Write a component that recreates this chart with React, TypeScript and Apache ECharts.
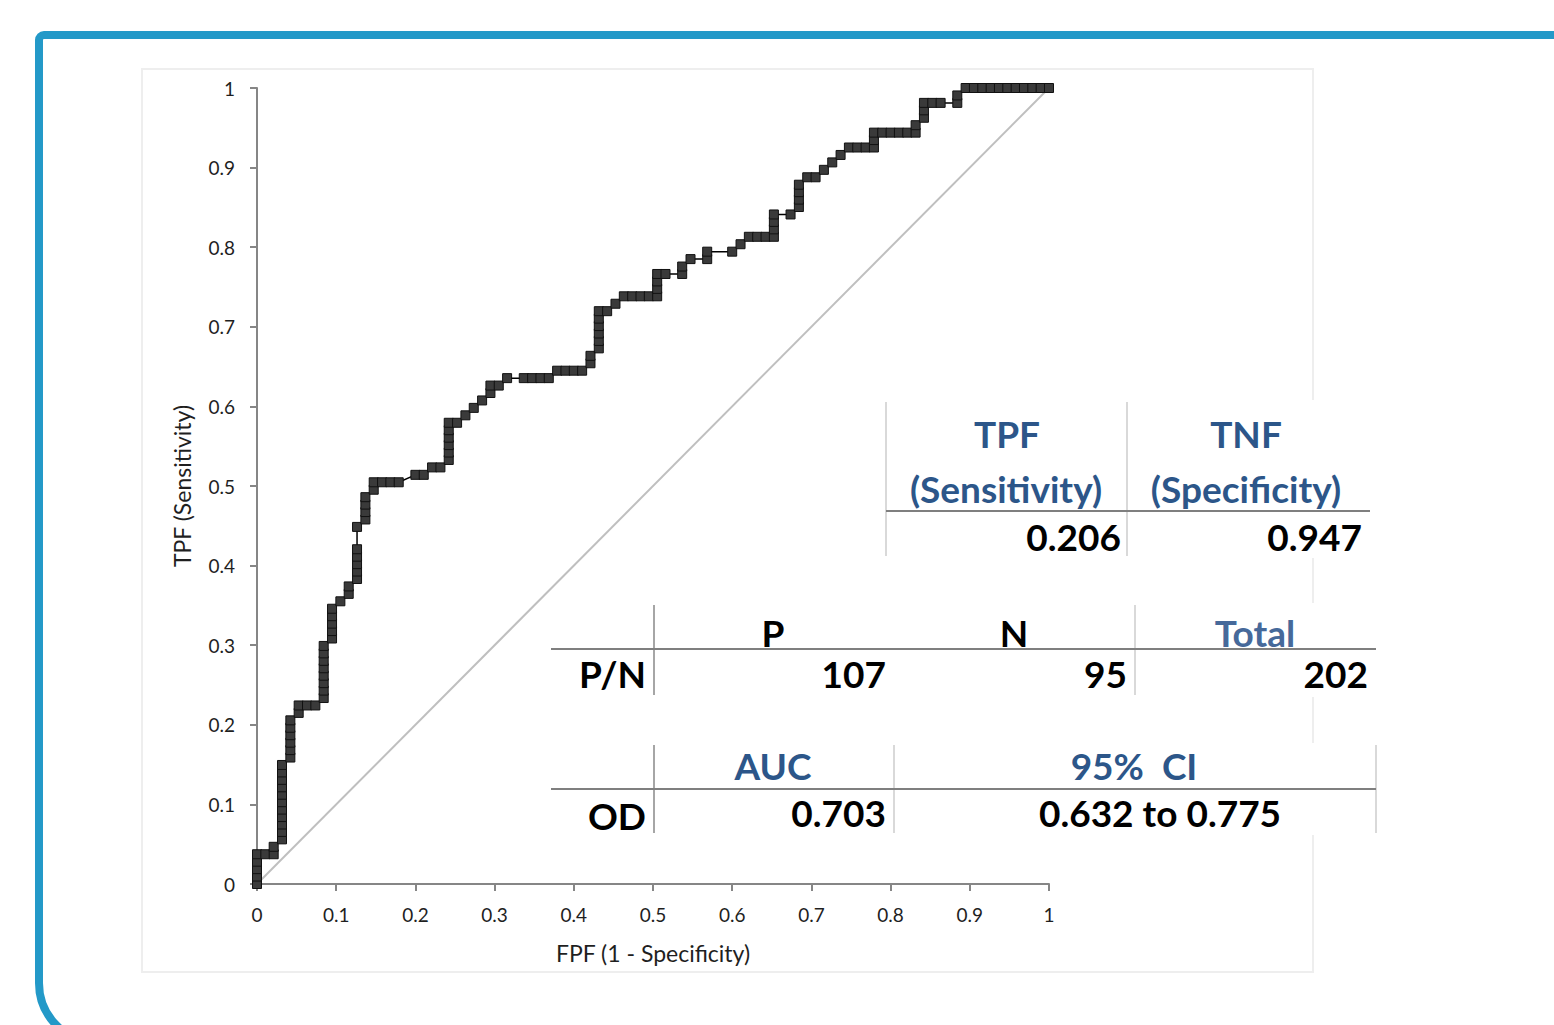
import React, { useEffect, useRef } from "react";
import * as echarts from "echarts";

// ROC curve: cumulative counts of false positives (of N) and true positives (of P)
const NEGATIVES = 95;
const POSITIVES = 107;
const rocCounts: [number, number][] = [
  [0, 0], [0, 1], [0, 2], [0, 3], [0, 4], [1, 4], [2, 4], [2, 5], [3, 6], [3, 7],
  [3, 8], [3, 9], [3, 10], [3, 11], [3, 12], [3, 13], [3, 14], [3, 15], [3, 16], [4, 17],
  [4, 18], [4, 19], [4, 20], [4, 21], [4, 22], [5, 23], [5, 24], [6, 24], [7, 24], [8, 25],
  [8, 26], [8, 27], [8, 28], [8, 29], [8, 30], [8, 31], [8, 32], [9, 33], [9, 34], [9, 35],
  [9, 36], [9, 37], [10, 38], [11, 39], [11, 40], [12, 41], [12, 42], [12, 43], [12, 44], [12, 45],
  [12, 48], [13, 49], [13, 50], [13, 51], [13, 52], [14, 53], [14, 54], [15, 54], [16, 54], [17, 54],
  [19, 55], [20, 55], [21, 56], [22, 56], [23, 57], [23, 58], [23, 59], [23, 60], [23, 61], [23, 62],
  [24, 62], [25, 63], [26, 64], [27, 65], [28, 66], [28, 67], [29, 67], [30, 68], [32, 68], [33, 68],
  [34, 68], [35, 68], [36, 69], [37, 69], [38, 69], [39, 69], [40, 70], [40, 71], [41, 72], [41, 73],
  [41, 74], [41, 75], [41, 76], [41, 77], [42, 77], [43, 78], [44, 79], [45, 79], [46, 79], [47, 79],
  [48, 79], [48, 80], [48, 81], [48, 82], [49, 82], [51, 82], [51, 83], [52, 84], [54, 84], [54, 85],
  [57, 85], [58, 86], [59, 87], [60, 87], [61, 87], [62, 87], [62, 88], [62, 89], [62, 90], [64, 90],
  [65, 91], [65, 92], [65, 93], [65, 94], [66, 95], [67, 95], [68, 96], [69, 97], [70, 98], [71, 99],
  [72, 99], [73, 99], [74, 99], [74, 100], [74, 101], [75, 101], [76, 101], [77, 101], [78, 101], [79, 101],
  [79, 102], [80, 103], [80, 104], [80, 105], [81, 105], [82, 105], [84, 105], [84, 106], [85, 107], [86, 107],
  [87, 107], [88, 107], [89, 107], [90, 107], [91, 107], [92, 107], [93, 107], [94, 107], [95, 107],
];
const chanceLine: [number, number][] = [[0, 0], [1, 1]];

const xAxisName = "FPF (1 - Specificity)";
const yAxisName = "TPF (Sensitivity)";

// Tables
const sensSpecHeaders = [["TPF", "(Sensitivity)"], ["TNF", "(Specificity)"]];
const sensSpecValues = ["0.206", "0.947"];
const pnHeaders = ["P", "N", "Total"];
const pnRowLabel = "P/N";
const pnValues = ["107", "95", "202"];
const aucHeaders = ["AUC", "95%  CI"];
const aucRowLabel = "OD";
const aucValues = ["0.703", "0.632 to 0.775"];

const FONT = "Lato, 'Open Sans', sans-serif";
const BLUE_TEXT = "#2c5689";
const BLUE_LIGHT = "#46699a";

function txt(text: string, x: number, y: number, align: string, color: string, size = 37) {
  return {
    type: "text",
    z: 30,
    silent: true,
    style: {
      text,
      x,
      y,
      fill: color,
      fontSize: size,
      fontWeight: "bold",
      fontFamily: FONT,
      textAlign: align,
      align,
      textVerticalAlign: "middle",
      verticalAlign: "middle",
    },
  };
}

function ln(x1: number, y1: number, x2: number, y2: number, color: string, w = 2) {
  return {
    type: "line",
    z: 25,
    silent: true,
    shape: { x1, y1, x2, y2 },
    style: { stroke: color, lineWidth: w },
  };
}

function box(x: number, y: number, width: number, height: number) {
  return {
    type: "rect",
    z: 20,
    silent: true,
    shape: { x, y, width, height },
    style: { fill: "#ffffff" },
  };
}

export default function App() {
  const ref = useRef<HTMLDivElement>(null);

  useEffect(() => {
    if (!ref.current) return;
    const chart = echarts.init(ref.current, undefined, { renderer: "svg" });

    const rocData = rocCounts.map(([fp, tp]) => [fp / NEGATIVES, tp / POSITIVES]);

    const axisLineStyle = { color: "#868686", width: 2 };
    const labelStyle = { fontFamily: FONT, fontSize: 19, color: "#1f1f1f" };

    const graphics: any[] = [
      // outer blue slide border
      {
        type: "rect",
        z: 0,
        silent: true,
        shape: { x: 39, y: 35, width: 1700, height: 1008, r: [5, 0, 0, 60] },
        style: { fill: "rgba(0,0,0,0)", stroke: "#2399c8", lineWidth: 8 },
      },
      // light chart frame
      {
        type: "rect",
        z: 0,
        silent: true,
        shape: { x: 142, y: 69, width: 1171, height: 903 },
        style: { fill: "rgba(0,0,0,0)", stroke: "#eeeeee", lineWidth: 2 },
      },
      // table backgrounds
      box(884, 400, 490, 158),
      box(549, 603, 830, 94),
      box(549, 743, 830, 92),

      // table 1
      ln(886, 402, 886, 556, "#d9d9d9"),
      ln(1127, 402, 1127, 556, "#d9d9d9"),
      ln(886, 511, 1370, 511, "#7f7f7f"),
      txt(sensSpecHeaders[0][0], 1007, 433, "center", BLUE_TEXT),
      txt(sensSpecHeaders[0][1], 1006, 488, "center", BLUE_TEXT),
      txt(sensSpecHeaders[1][0], 1246, 433, "center", BLUE_TEXT),
      txt(sensSpecHeaders[1][1], 1246, 488, "center", BLUE_TEXT),
      txt(sensSpecValues[0], 1121, 536, "right", "#000000"),
      txt(sensSpecValues[1], 1362, 536, "right", "#000000"),

      // table 2
      ln(654, 605, 654, 695, "#a6a6a6"),
      ln(1135, 605, 1135, 695, "#d9d9d9"),
      ln(551, 649, 1376, 649, "#7f7f7f"),
      txt(pnHeaders[0], 773, 632, "center", "#000000"),
      txt(pnHeaders[1], 1014, 632, "center", "#000000"),
      txt(pnHeaders[2], 1255, 632, "center", BLUE_LIGHT),
      txt(pnRowLabel, 646, 673, "right", "#000000"),
      txt(pnValues[0], 886, 673, "right", "#000000"),
      txt(pnValues[1], 1127, 673, "right", "#000000"),
      txt(pnValues[2], 1368, 673, "right", "#000000"),

      // table 3
      ln(654, 745, 654, 833, "#a6a6a6"),
      ln(894, 745, 894, 833, "#d9d9d9"),
      ln(1376, 745, 1376, 833, "#d9d9d9"),
      ln(551, 789, 1376, 789, "#7f7f7f"),
      txt(aucHeaders[0], 773, 765, "center", BLUE_TEXT),
      txt(aucHeaders[1], 1134, 765, "center", BLUE_TEXT),
      txt(aucRowLabel, 646, 815, "right", "#000000"),
      txt(aucValues[0], 886, 812, "right", "#000000"),
      txt(aucValues[1], 1160, 812, "center", "#000000"),
    ];

    chart.setOption({
      animation: false,
      backgroundColor: "#ffffff",
      grid: { left: 257, top: 88, width: 792, height: 796, containLabel: false },
      xAxis: {
        type: "value",
        min: 0,
        max: 1,
        interval: 0.1,
        name: xAxisName,
        nameLocation: "middle",
        nameGap: 57,
        nameTextStyle: { fontFamily: FONT, fontSize: 23, color: "#1f1f1f" },
        axisLine: { show: true, lineStyle: axisLineStyle },
        axisTick: { show: true, length: 7, lineStyle: axisLineStyle },
        axisLabel: { ...labelStyle, margin: 21 },
        splitLine: { show: false },
      },
      yAxis: {
        type: "value",
        min: 0,
        max: 1,
        interval: 0.1,
        name: yAxisName,
        nameLocation: "middle",
        nameGap: 64,
        nameTextStyle: { fontFamily: FONT, fontSize: 23, color: "#1f1f1f" },
        axisLine: { show: true, lineStyle: axisLineStyle },
        axisTick: { show: true, length: 7, lineStyle: axisLineStyle },
        axisLabel: { ...labelStyle, margin: 22 },
        splitLine: { show: false },
      },
      series: [
        {
          type: "line",
          data: chanceLine,
          symbol: "none",
          silent: true,
          z: 1,
          lineStyle: { color: "#bfbfbf", width: 2 },
        },
        {
          type: "line",
          data: rocData,
          symbol: "rect",
          symbolSize: 9,
          z: 3,
          lineStyle: { color: "#000000", width: 1.5 },
          itemStyle: { color: "#3a3a3a", borderColor: "#111111", borderWidth: 1 },
        },
      ],
      graphic: { elements: graphics },
    });

    return () => chart.dispose();
  }, []);

  return (
    <div
      ref={ref}
      style={{ position: "absolute", left: 0, top: 0, width: 1554, height: 1025, background: "#fff" }}
    />
  );
}
